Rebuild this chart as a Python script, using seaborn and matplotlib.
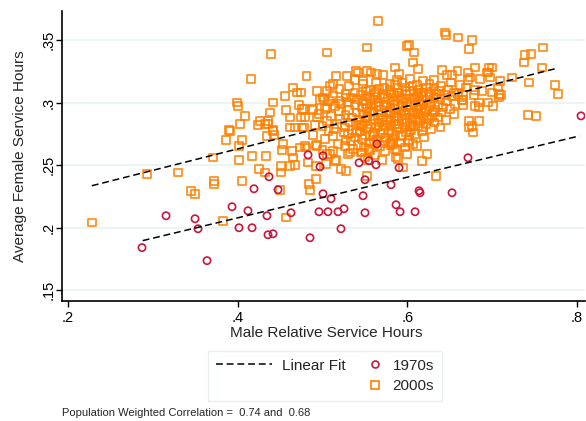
import numpy as np
import pandas as pd
import seaborn as sns
import matplotlib
matplotlib.use("Agg")
import matplotlib.pyplot as plt
from matplotlib.lines import Line2D
from matplotlib.legend_handler import HandlerLine2D

# 1970s: (male relative hours, avg female hours)
pts_1970s = [
    (.3155, .2094), (.3497, .2070), (.3532, .1990), (.2872, .1839), (.3638, .1735),
    (.3933, .2166), (.4121, .2134), (.4015, .1998), (.4169, .1998), (.4345, .2094),
    (.4357, .1942), (.4416, .1950), (.4192, .2310), (.4369, .2406), (.4475, .2302),
    (.4628, .2118), (.4852, .1918), (.4829, .2581), (.4958, .2126), (.4970, .2486),
    (.5005, .2574), (.5005, .2270), (.5100, .2230), (.5064, .2126), (.5182, .2126),
    (.5253, .2150), (.5217, .1990), (.5430, .2518), (.5547, .2534), (.5630, .2502),
    (.5500, .2382), (.5477, .2254), (.5500, .2118), (.5642, .2669), (.5807, .2342),
    (.5901, .2478), (.5866, .2182), (.5913, .2126), (.6090, .2126), (.6137, .2294),
    (.6149, .2278), (.6526, .2278), (.6714, .2558), (.8046, .2893),
]

# 2000s
pts_2000s = [
    # outer points
    (.228, .204), (.293, .243), (.330, .244), (.345, .229), (.350, .227), (.372, .237),
    (.372, .235), (.371, .256), (.383, .205), (.405, .237), (.402, .254), (.402, .265),
    (.386, .270), (.405, .270), (.417, .257), (.433, .257), (.425, .247), (.432, .244),
    (.451, .249), (.451, .244), (.462, .249), (.450, .230), (.457, .208), (.468, .250),
    (.465, .256), (.452, .262), (.453, .267), (.464, .261), (.473, .264), (.481, .264),
    (.483, .252), (.484, .235), (.485, .230), (.492, .239), (.493, .265),
    (.403, .283), (.391, .277), (.424, .282), (.426, .285), (.436, .283), (.442, .277),
    (.443, .274), (.435, .273), (.462, .280), (.468, .280), (.476, .280), (.491, .282),
    (.439, .339), (.416, .319), (.481, .321), (.465, .312), (.470, .308), (.475, .308),
    (.493, .309), (.456, .305), (.442, .300), (.399, .300), (.400, .297), (.438, .292),
    (.457, .294), (.472, .298), (.476, .295), (.488, .294), (.489, .295), (.409, .289),
    (.462, .288), (.475, .288), (.479, .288), (.493, .288), (.436, .285), (.432, .283),
    (.390, .278), (.442, .278), (.478, .280), (.489, .274), (.492, .266), (.479, .265),
    (.505, .340), (.552, .344), (.600, .345), (.602, .346), (.608, .340), (.565, .365),
    (.644, .356), (.645, .354), (.660, .352), (.676, .350), (.673, .343), (.760, .344),
    (.746, .339), (.739, .338), (.737, .332), (.759, .328), (.774, .314), (.777, .307),
    (.742, .290), (.752, .289), (.743, .316), (.723, .320), (.709, .317), (.707, .312),
    (.708, .307), (.710, .306), (.708, .304), (.700, .308), (.701, .297), (.695, .300),
    (.684, .296), (.680, .297), (.684, .285), (.673, .285), (.676, .281), (.673, .280),
    (.677, .276), (.666, .306), (.666, .302), (.666, .298), (.678, .306), (.688, .309),
    (.680, .310), (.669, .312), (.671, .318), (.674, .320), (.680, .328), (.686, .319),
    (.694, .324), (.696, .328), (.700, .328), (.695, .324), (.697, .320), (.671, .324),
    (.684, .300),
    (.516, .321), (.512, .315), (.509, .313), (.552, .325), (.585, .328), (.590, .323),
    (.607, .332), (.612, .327), (.641, .326), (.647, .322), (.653, .322), (.659, .325),
    (.529, .321), (.539, .325), (.542, .324), (.538, .318), (.548, .317), (.557, .324),
    (.564, .323), (.563, .316), (.571, .322), (.579, .315), (.571, .307), (.501, .304),
    (.478, .295), (.502, .303), (.519, .301), (.528, .304), (.505, .296), (.497, .302),
    (.500, .262), (.509, .259), (.516, .254), (.522, .247), (.528, .245), (.532, .260),
    (.546, .260), (.555, .263), (.554, .254), (.570, .254), (.588, .262), (.589, .255),
    (.595, .248), (.552, .241), (.623, .259), (.617, .253), (.634, .241), (.579, .268),
    (.583, .267), (.601, .268), (.611, .265), (.492, .249), (.504, .251), (.505, .259),
    (.515, .253),
    # dense core
    (.588, .318), (.603, .319), (.618, .317), (.631, .318),
    (.548, .315), (.594, .316), (.611, .314), (.626, .315), (.651, .316),
    (.531, .313), (.573, .312), (.585, .314), (.606, .313), (.622, .312), (.640, .313), (.662, .314),
    (.520, .311), (.556, .310), (.567, .311), (.597, .312), (.613, .310), (.632, .311), (.648, .310),
    (.505, .309), (.538, .308), (.551, .309), (.579, .310), (.590, .308), (.603, .309), (.619, .308),
    (.637, .309), (.655, .308),
    (.527, .307), (.545, .306), (.561, .307), (.584, .306), (.598, .307), (.612, .306), (.627, .307),
    (.644, .306), (.660, .307),
    (.512, .305), (.534, .304), (.552, .305), (.571, .304), (.588, .305), (.606, .304), (.617, .305),
    (.631, .304), (.652, .305),
    (.541, .303), (.559, .302), (.577, .303), (.595, .302), (.609, .303), (.623, .302), (.639, .303),
    (.664, .302),
    (.508, .301), (.530, .300), (.548, .301), (.566, .300), (.583, .301), (.600, .300), (.614, .301),
    (.628, .300), (.646, .301),
    (.522, .299), (.538, .298), (.557, .299), (.573, .298), (.589, .299), (.604, .298), (.619, .299),
    (.636, .298), (.656, .299),
    (.515, .297), (.546, .296), (.563, .297), (.580, .296), (.594, .297), (.611, .296), (.626, .297),
    (.642, .296),
    (.503, .295), (.531, .294), (.552, .295), (.569, .294), (.585, .295), (.601, .294), (.616, .295),
    (.633, .294), (.650, .295),
    (.519, .293), (.540, .292), (.558, .293), (.575, .292), (.592, .293), (.607, .292), (.621, .293),
    (.640, .292),
    (.496, .291), (.527, .290), (.547, .291), (.565, .290), (.581, .291), (.598, .290), (.612, .291),
    (.629, .290), (.655, .291),
    (.510, .289), (.535, .288), (.553, .289), (.571, .288), (.587, .289), (.603, .288), (.618, .289),
    (.636, .288),
    (.521, .287), (.543, .286), (.560, .287), (.577, .286), (.594, .287), (.610, .286), (.625, .287),
    (.645, .286),
    (.505, .285), (.532, .284), (.550, .285), (.567, .284), (.584, .285), (.600, .284), (.615, .285),
    (.632, .284),
    (.517, .283), (.539, .282), (.557, .283), (.574, .282), (.590, .283), (.607, .282), (.622, .283),
    (.500, .281), (.526, .280), (.546, .281), (.563, .280), (.580, .281), (.597, .280), (.613, .281),
    (.639, .280),
    (.513, .279), (.535, .278), (.552, .279), (.571, .278), (.588, .279), (.604, .278), (.628, .279),
    (.507, .277), (.525, .276), (.544, .277), (.561, .276), (.578, .277), (.598, .276), (.617, .277),
    (.530, .275), (.550, .274), (.568, .275), (.586, .274), (.609, .275),
    (.512, .273), (.538, .272), (.556, .273), (.575, .272), (.594, .273), (.620, .272),
    (.503, .271), (.527, .270), (.546, .271), (.564, .270), (.583, .271), (.602, .270),
    (.534, .269), (.555, .268), (.572, .269), (.591, .268),
    (.518, .267), (.542, .266), (.561, .267), (.580, .266), (.607, .267),
    (.526, .265), (.549, .264), (.568, .265), (.597, .264),
    (.536, .263), (.556, .262), (.585, .263),
    (.512, .261), (.545, .260), (.574, .261),
    (.530, .259), (.562, .258), (.600, .259),
    (.550, .256), (.587, .256),
    # extra points filling the densest part
    (.556, .3035), (.574, .3045), (.592, .3038), (.611, .3042), (.626, .3048),
    (.551, .2985), (.567, .2972), (.584, .2978), (.599, .2965), (.616, .2982),
    (.560, .2925), (.579, .2935), (.596, .2918), (.613, .2938), (.631, .2922),
    (.552, .2872), (.570, .2862), (.588, .2878), (.606, .2868), (.623, .2875),
    (.563, .3085), (.581, .3072), (.598, .3095), (.616, .3078), (.634, .3065),
    (.545, .2818), (.566, .2808), (.585, .2825), (.603, .2812), (.618, .2805),
    (.541, .2765), (.560, .2745), (.582, .2755), (.602, .2762),
]

# linear fit end points
fit_x_1970s = [0.288, 0.803]
fit_y_1970s = [0.1895, 0.2733]
fit_x_2000s = [0.228, 0.7775]
fit_y_2000s = [0.2334, 0.3276]

xticks = [.2, .4, .6, .8]
xtick_labels = [".2", ".4", ".6", ".8"]
yticks = [.15, .2, .25, .3, .35]
ytick_labels = [".15", ".2", ".25", ".3", ".35"]

red = "#C8163C"
orange = "#FF7F00"

df70 = pd.DataFrame(pts_1970s, columns=["male", "female"])
df00 = pd.DataFrame(pts_2000s, columns=["male", "female"])

sns.set_style("white")
plt.rcParams["font.family"] = ["Liberation Sans", "DejaVu Sans"]

fig = plt.figure(figsize=(5.86, 4.21), dpi=100)
ax = fig.add_axes([62 / 586, 1 - 301 / 421, (585 - 62) / 586, (301 - 11) / 421])

sns.scatterplot(data=df00, x="male", y="female", marker="s", s=32,
                facecolor="none", edgecolor=orange, linewidth=1.3, alpha=0.85,
                ax=ax, zorder=3)
sns.scatterplot(data=df70, x="male", y="female", marker="o", s=27,
                facecolor="none", edgecolor=red, linewidth=1.2, ax=ax, zorder=4)
sns.lineplot(x=fit_x_2000s, y=fit_y_2000s, color="black", lw=1.1,
             linestyle=(0, (4.5, 2.5)), ax=ax, zorder=5)
sns.lineplot(x=fit_x_1970s, y=fit_y_1970s, color="black", lw=1.1,
             linestyle=(0, (4.5, 2.5)), ax=ax, zorder=5)

ax.set_xlim(0.1929, 0.8093)
ax.set_ylim(0.1412, 0.3732)
ax.set_xticks(xticks)
ax.set_xticklabels(xtick_labels)
ax.set_yticks(yticks)
ax.set_yticklabels(ytick_labels, rotation=90, va="center")
ax.tick_params(axis="both", length=4, width=1, color="black", labelsize=10.5,
               labelcolor="black", direction="out", bottom=True, left=True)
ax.tick_params(axis="y", pad=0.5)
ax.tick_params(axis="x", pad=3)

ax.yaxis.grid(True, color="#eaf2f3", lw=1.2, zorder=0)
ax.xaxis.grid(False)
for side in ["top", "right"]:
    ax.spines[side].set_visible(False)
for side in ["left", "bottom"]:
    ax.spines[side].set_color("black")
    ax.spines[side].set_linewidth(1.2)

ax.set_xlabel("Male Relative Service Hours", fontsize=11)
ax.set_ylabel("Average Female Service Hours", fontsize=11)
ax.xaxis.set_label_coords(0.505, -0.086)
ax.yaxis.set_label_coords(-0.066, 0.5)


class RightMarker(HandlerLine2D):
    # put the single marker near the right end of the handle box
    def get_xdata(self, legend, xdescent, ydescent, width, height, fontsize):
        xd, xm = super().get_xdata(legend, xdescent, ydescent, width, height, fontsize)
        pos = -xdescent + width - 0.5 * fontsize
        return [pos - 1, pos + 1], [pos]


h_fit = Line2D([], [], color="black", lw=1.1, linestyle=(0, (4.5, 2.5)))
h_blank = Line2D([], [], linestyle="none")
h_70 = Line2D([], [], linestyle="none", marker="o", markersize=5, mfc="none",
              mec=red, mew=1.2)
h_00 = Line2D([], [], linestyle="none", marker="s", markersize=5.5, mfc="none",
              mec=orange, mew=1.2)
leg = fig.legend([h_fit, h_blank, h_70, h_00], ["Linear Fit", "", "1970s", "2000s"],
                 ncol=2, loc="center", bbox_to_anchor=(325 / 586, 1 - 376 / 421),
                 fontsize=11, handlelength=3.7, handletextpad=0.65,
                 columnspacing=-1.3, labelspacing=0.45, borderpad=0.5,
                 fancybox=False, frameon=True,
                 handler_map={h_70: RightMarker(), h_00: RightMarker()})
leg.get_frame().set_edgecolor("#e3ebeb")
leg.get_frame().set_linewidth(1.0)

fig.text(62 / 586, 1 - 413 / 421, "Population Weighted Correlation =  0.74 and  0.68",
         fontsize=8, va="center", ha="left")

fig.savefig("out.png", dpi=100)
